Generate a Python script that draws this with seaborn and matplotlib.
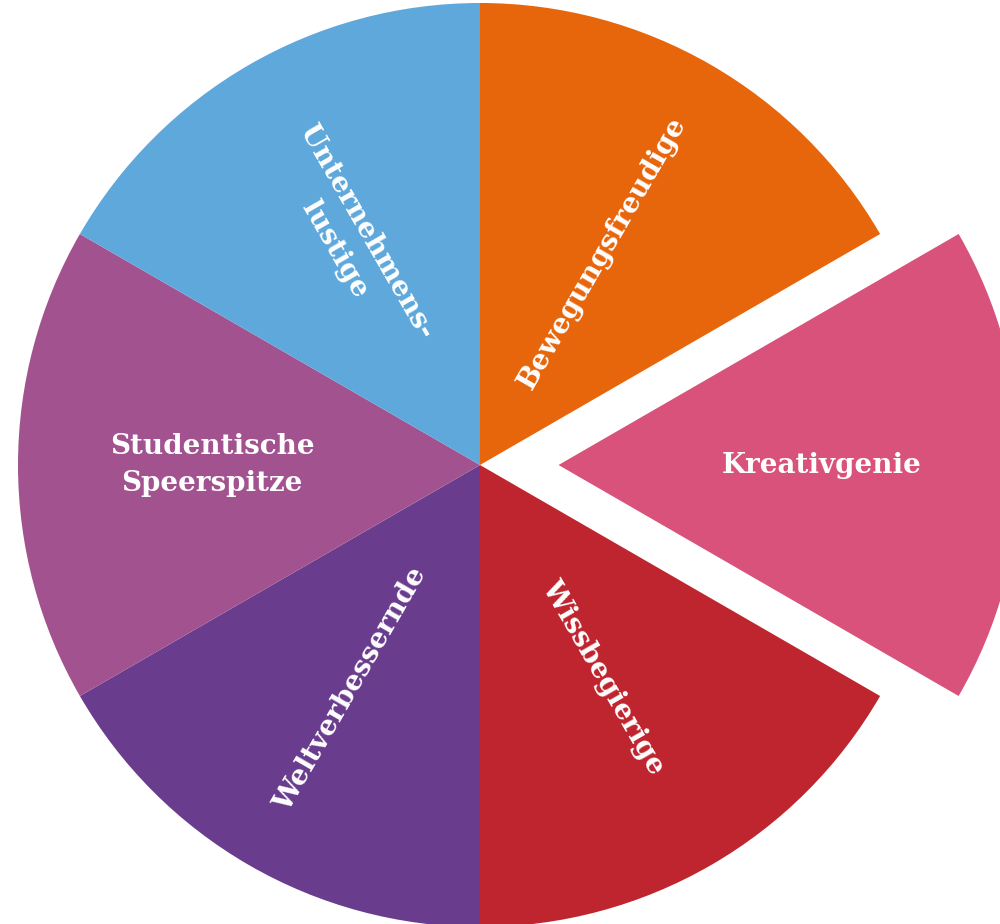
import matplotlib
matplotlib.use("Agg")
import matplotlib.pyplot as plt
import seaborn as sns
import numpy as np

sns.set_theme(style="white")
plt.rcParams["font.family"] = ["DejaVu Serif"]

# slices, clockwise from 12 o'clock
labels = ["Bewegungsfreudige", "Kreativgenie", "Wissbegierige",
          "Weltverbessernde", "Studentische\nSpeerspitze", "Unternehmens-\nlustige"]
shares = [1, 1, 1, 1, 1, 1]
colors = ["#E8660B", "#D8527B", "#BF252E", "#6A3C8E", "#A2538F", "#5FA8DB"]
explode = [0, 0.17, 0, 0, 0, 0]

fig = plt.figure(figsize=(10, 9.24), dpi=100)
ax = fig.add_axes([0, 0, 1, 1])

wedges, _ = ax.pie(
    shares,
    colors=colors,
    explode=explode,
    startangle=90,
    counterclock=False,
    radius=1,
    wedgeprops=dict(linewidth=0),
)

# label placement: radial distance (fraction of radius)
label_r = [0.53, 0.74, 0.53, 0.56, 0.58, 0.56]
for w, lab, r in zip(wedges, labels, label_r):
    mid = np.deg2rad((w.theta1 + w.theta2) / 2)
    x, y = r * np.cos(mid), r * np.sin(mid)
    deg = np.rad2deg(mid) % 360
    if abs(deg) < 1 or abs(deg - 180) < 1:
        rot = 0
    elif deg < 90 or deg > 270:
        rot = deg if deg < 90 else deg - 360
    else:
        rot = deg - 180
    ax.text(x, y, lab, ha="center", va="center", rotation=rot,
            rotation_mode="anchor", color="white", fontsize=20,
            fontweight="semibold", linespacing=1.45)

# pie centre at (480, 465) px, radius 462 px, cropped at the figure edge
ax.set_xlim(-480 / 462, 520 / 462)
ax.set_ylim(-459 / 462, 465 / 462)
ax.set_aspect("auto")
ax.axis("off")

fig.savefig("out.png", dpi=100, facecolor="white")
